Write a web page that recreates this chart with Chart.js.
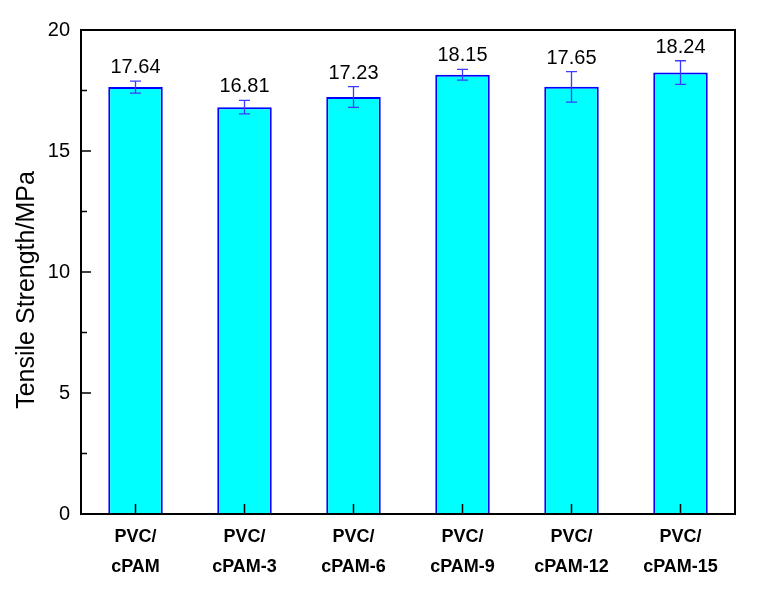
<!DOCTYPE html>
<html><head><meta charset="utf-8">
<script src="https://cdn.jsdelivr.net/npm/chart.js@4/dist/chart.umd.min.js"></script>
<style>html,body{margin:0;padding:0;background:#fff}#w{width:764px;height:594px}</style>
</head><body><div id="w"><canvas id="c" width="764" height="594"></canvas></div>
<script>
const categories = [["PVC/","cPAM"],["PVC/","cPAM-3"],["PVC/","cPAM-6"],["PVC/","cPAM-9"],["PVC/","cPAM-12"],["PVC/","cPAM-15"]];
const strength = [17.64, 16.81, 17.23, 18.15, 17.65, 18.24];
const errors = [0.25, 0.28, 0.43, 0.22, 0.63, 0.49];
const valueLabels = ["17.64","16.81","17.23","18.15","17.65","18.24"];
const yTicks = [0, 5, 10, 15, 20];
const yMinorTicks = [2.5, 7.5, 12.5, 17.5];
const yTitle = "Tensile Strength/MPa";

const overlay = {
  id: 'overlay',
  afterDatasetsDraw(chart) {
    const ctx = chart.ctx, a = chart.chartArea;
    const ys = chart.scales.y;
    const meta = chart.getDatasetMeta(0);
    ctx.save();
    // error bars
    ctx.strokeStyle = '#3b3bff';
    ctx.lineWidth = 1.3;
    meta.data.forEach((bar, i) => {
      const x = bar.x;
      const t = ys.getPixelForValue(strength[i] + errors[i]);
      const b = ys.getPixelForValue(strength[i] - errors[i]);
      ctx.beginPath();
      ctx.moveTo(x, t); ctx.lineTo(x, b);
      ctx.moveTo(x - 5.5, t); ctx.lineTo(x + 5.5, t);
      ctx.moveTo(x - 5.5, b); ctx.lineTo(x + 5.5, b);
      ctx.stroke();
      // value label
      ctx.fillStyle = '#000';
      ctx.font = '20px "Liberation Sans", Arial, sans-serif';
      ctx.textAlign = 'center';
      ctx.textBaseline = 'alphabetic';
      ctx.fillText(valueLabels[i], x, t - 8);
    });
    // frame
    ctx.strokeStyle = '#000';
    ctx.lineWidth = 2;
    ctx.strokeRect(a.left, a.top, a.right - a.left, a.bottom - a.top);
    // y ticks inward
    ctx.lineWidth = 1.5;
    ctx.beginPath();
    yTicks.forEach(v => { const y = ys.getPixelForValue(v); ctx.moveTo(a.left, y); ctx.lineTo(a.left + 10, y); });
    yMinorTicks.forEach(v => { const y = ys.getPixelForValue(v); ctx.moveTo(a.left, y); ctx.lineTo(a.left + 6, y); });
    // x ticks inward
    meta.data.forEach(bar => { ctx.moveTo(bar.x, a.bottom); ctx.lineTo(bar.x, a.bottom - 10); });
    ctx.stroke();
    // y title
    ctx.fillStyle = '#000';
    ctx.font = '25px "Liberation Sans", Arial, sans-serif';
    ctx.textAlign = 'center';
    ctx.textBaseline = 'middle';
    ctx.translate(27, 290);
    ctx.rotate(-Math.PI / 2);
    ctx.fillText(yTitle, 0, 0);
    ctx.restore();
  }
};

new Chart(document.getElementById('c'), {
  type: 'bar',
  data: {
    labels: categories,
    datasets: [{
      data: strength,
      backgroundColor: '#00ffff',
      borderColor: '#0000ff',
      borderWidth: 2,
      barPercentage: 0.5,
      categoryPercentage: 1.0
    }]
  },
  options: {
    responsive: false,
    animation: false,
    events: [],
    layout: { padding: { top: 30, right: 29, left: 0, bottom: 0 } },
    plugins: { legend: { display: false }, tooltip: { enabled: false } },
    scales: {
      x: {
        grid: { display: false, drawTicks: false },
        border: { display: false },
        ticks: {
          color: '#000',
          font: { family: '"Liberation Sans", Arial, sans-serif', size: 18, weight: 'bold', lineHeight: 1.67 },
          padding: 8,
          maxRotation: 0,
          autoSkip: false
        },
        afterFit(s) { s.height = 80; }
      },
      y: {
        min: 0, max: 20,
        grid: { display: false, drawTicks: false },
        border: { display: false },
        ticks: {
          stepSize: 5,
          color: '#000',
          font: { family: '"Liberation Sans", Arial, sans-serif', size: 20 },
          padding: 11
        },
        afterFit(s) { s.width = 81; }
      }
    }
  },
  plugins: [overlay]
});
</script>
</body></html>
